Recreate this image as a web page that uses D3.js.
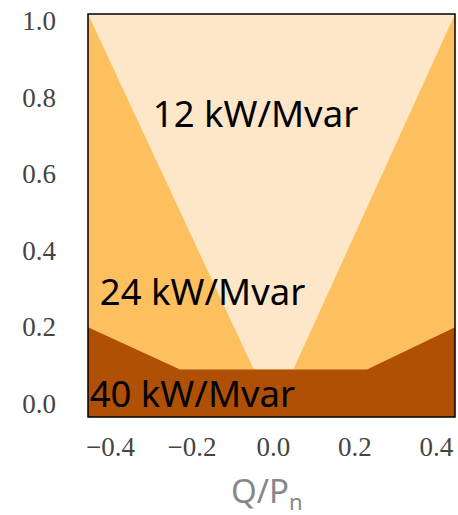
<!DOCTYPE html>
<html>
<head>
<meta charset="utf-8">
<script src="https://cdn.jsdelivr.net/npm/d3@7"></script>
<style>
  body { margin: 0; background: #fff; }
</style>
</head>
<body>
<div id="chart"></div>
<script>
// boundaries (Q/Pn on x, P on y)
const qDomain = [-0.454, 0.447];
const pDomain = [-0.034, 1.018];
const lightQ = [-0.454, -0.047, 0.05, 0.447];
const lightP = [1.018, 0.09, 0.09, 1.018];
const darkQ = [-0.454, -0.228, 0.231, 0.447];
const darkP = [0.2, 0.09, 0.09, 0.2];
const xTicks = [-0.4, -0.2, 0.0, 0.2, 0.4];
const yTicks = [0.0, 0.2, 0.4, 0.6, 0.8, 1.0];
const regionLabels = ['12 kW/Mvar', '24 kW/Mvar', '40 kW/Mvar'];
const labelQ = [-0.295, -0.425, -0.45];
const labelP = [0.723, 0.258, -0.008];
const colors = {light: '#fee7c8', mid: '#fdc05f', dark: '#b04f06'};

const svg = d3.select('#chart').append('svg')
    .attr('width', 458)
    .attr('height', 515);

const margin = {top: 14, right: 3, bottom: 98, left: 88},
    width = 458 - margin.left - margin.right,
    height = 515 - margin.top - margin.bottom;

const x = d3.scaleLinear().domain(qDomain).range([0, width]);
const y = d3.scaleLinear().domain(pDomain).range([height, 0]);

const g = svg.append('g')
    .attr('transform', 'translate(' + margin.left + ',' + margin.top + ')');

// middle band is the background
g.append('rect')
    .attr('width', width)
    .attr('height', height)
    .attr('fill', colors.mid);

const lightPts = lightQ.map((q, i) => ({q: q, p: lightP[i]}));
const darkPts = darkQ.map((q, i) => ({q: q, p: darkP[i]}));

const lightArea = d3.area()
    .x(d => x(d.q))
    .y0(y(pDomain[1]))
    .y1(d => y(d.p));

const darkArea = d3.area()
    .x(d => x(d.q))
    .y0(y(pDomain[0]))
    .y1(d => y(d.p));

g.append('path')
    .datum(lightPts)
    .attr('fill', colors.light)
    .attr('d', lightArea);

g.append('path')
    .datum(darkPts)
    .attr('fill', colors.dark)
    .attr('d', darkArea);

g.selectAll('.region-label')
    .data(regionLabels)
    .enter().append('text')
    .attr('class', 'region-label')
    .attr('x', (d, i) => x(labelQ[i]))
    .attr('y', (d, i) => y(labelP[i]))
    .style('font-family', '"Noto Sans", sans-serif')
    .style('font-size', '36.5px')
    .attr('fill', '#000')
    .text(d => d);

// frame
g.append('rect')
    .attr('width', width)
    .attr('height', height)
    .attr('fill', 'none')
    .attr('stroke', '#000')
    .attr('stroke-width', 1.5);

const fmt = d => d < 0 ? '\u2212' + Math.abs(d).toFixed(1) : d.toFixed(1);

const xAxis = d3.axisBottom(x).tickValues(xTicks).tickSize(0).tickPadding(20).tickFormat(fmt);
const yAxis = d3.axisLeft(y).tickValues(yTicks).tickSize(0).tickPadding(32).tickFormat(fmt);

const gx = g.append('g')
    .attr('transform', 'translate(0,' + height + ')')
    .call(xAxis);
const gy = g.append('g').call(yAxis);

[gx, gy].forEach(a => {
  a.select('.domain').remove();
  a.selectAll('text')
      .style('font-family', '"Liberation Serif", serif')
      .style('font-size', '27px')
      .attr('fill', '#444');
});

const title = svg.append('text')
    .attr('x', 231)
    .attr('y', 503)
    .style('font-family', '"Noto Sans", sans-serif')
    .style('font-size', '33px')
    .attr('fill', '#888');
title.append('tspan').text('Q/P');
title.append('tspan').attr('dy', 7).style('font-size', '22px').text('n');
</script>
</body>
</html>
